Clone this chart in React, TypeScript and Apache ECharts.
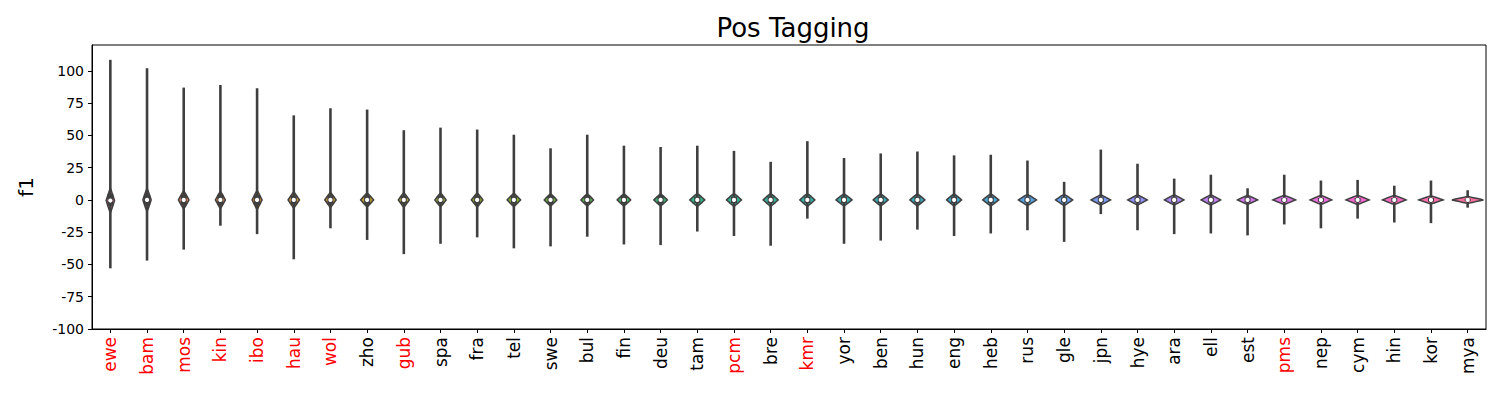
import React, { useEffect, useRef } from "react";
import * as echarts from "echarts";

const categories = ["ewe","bam","mos","kin","ibo","hau","wol","zho","gub","spa","fra","tel","swe","bul","fin","deu","tam","pcm","bre","kmr","yor","ben","hun","eng","heb","rus","gle","jpn","hye","ara","ell","est","pms","nep","cym","hin","kor","mya"];
const redLabels = ["ewe","bam","mos","kin","ibo","hau","wol","gub","pcm","kmr","pms"];
const maxValues = [108.5,102,87,89,86.5,65.5,71,70,54,56,54.5,50.5,40,50.5,42,41,42,38,29.5,45.5,32.5,36,37.5,34.5,35,30.5,14,39,28,16.5,19.5,9,19.5,15,15.5,11,15,7.5];
const minValues = [-53,-47,-38.5,-20,-26.5,-46,-22,-31,-42,-34,-29,-37.5,-36,-28.5,-34.5,-35,-24.5,-28,-35.5,-14.5,-34,-31.5,-23,-28,-26,-23.5,-32.5,-11,-23.5,-26.5,-26,-27.5,-19,-22,-14.5,-17.5,-18,-6];
const medians = [-0.5,0,0,0,0,0,0,0,0,0,0,0,0,0,0,0,0,0,0,0,0,0,0,0,0,0,0,0,0,0,0,0,0,0,0,0,0,0];
const q1Values = [-4.5,-4.5,-4,-4,-4,-3.5,-3.5,-3.5,-3,-3,-3,-3,-3,-3,-3,-3,-2.5,-2.5,-2.5,-2.5,-2.5,-2.5,-2.5,-2.5,-2.5,-2,-2,-2,-2,-2,-2,-2,-1.5,-1.5,-1.5,-1.5,-1.5,-1];
const q3Values = [4.5,4.5,4,4,4,3.5,3.5,3.5,3,3,3,3,3,3,3,3,2.5,2.5,2.5,2.5,2.5,2.5,2.5,2.5,2.5,2,2,2,2,2,2,2,1.5,1.5,1.5,1.5,1.5,1];
// violin body: peak half-width (fraction of category band) and half-height (data units)
const violinWidths = [0.114,0.114,0.144,0.136,0.136,0.155,0.155,0.177,0.15,0.155,0.158,0.183,0.172,0.172,0.183,0.183,0.204,0.204,0.204,0.204,0.218,0.204,0.204,0.204,0.218,0.245,0.232,0.264,0.264,0.264,0.264,0.272,0.308,0.292,0.313,0.319,0.327,0.43];
const violinSpreads = [9.5,9,7,6.6,7.3,6.2,5.8,5.4,5.6,5.3,5.4,5.1,4.7,4.7,4.7,4.7,5,5,5,5,4.7,4.7,4.7,4.7,4.7,4.3,4.3,3.9,3.9,3.9,3.9,3.5,3.5,3.5,3.5,3.5,3.1,2.6];
const yTicks = [-100,-75,-50,-25,0,25,50,75,100];

const huslAnchors = ["#f77189","#dc8932","#ae9d31","#77ab31","#33b07a","#36ada4","#38a9c5","#6e9bf4","#cc7af4","#f565cc"];

function hexToRgb(h: string) {
  return [parseInt(h.slice(1, 3), 16), parseInt(h.slice(3, 5), 16), parseInt(h.slice(5, 7), 16)];
}
function paletteColor(i: number, n: number) {
  const p = (i * huslAnchors.length) / n;
  const a = Math.floor(p) % huslAnchors.length;
  const b = (a + 1) % huslAnchors.length;
  const f = p - Math.floor(p);
  const ca = hexToRgb(huslAnchors[a]);
  const cb = hexToRgb(huslAnchors[b]);
  const c = ca.map((v, k) => Math.round(v + (cb[k] - v) * f));
  return `rgb(${c[0]},${c[1]},${c[2]})`;
}

const DARK = "#3f3f3f";
const FONT = "DejaVu Sans";

export default function App() {
  const ref = useRef<HTMLDivElement>(null);
  useEffect(() => {
    if (!ref.current) return;
    const chart = echarts.init(ref.current, null, { renderer: "svg" });
    const data = categories.map((c, i) => [
      i, minValues[i], q1Values[i], medians[i], q3Values[i], maxValues[i], violinWidths[i], violinSpreads[i],
    ]);
    const renderItem = (params: any, api: any) => {
      const i = api.value(0);
      const mn = api.value(1), q1 = api.value(2), med = api.value(3), q3 = api.value(4), mx = api.value(5);
      const w = api.value(6), s = api.value(7);
      const bw = api.size([1, 0])[0];
      const cx = api.coord([i, 0])[0];
      const yOf = (v: number) => api.coord([i, v])[1];
      const N = 24;
      const right: number[][] = [];
      const left: number[][] = [];
      for (let k = 0; k <= N; k++) {
        const t = -s + (2 * s * k) / N;
        const hw = w * bw * Math.pow(Math.max(0, 1 - Math.abs(t) / s), 0.9);
        right.push([cx + hw, yOf(med + t)]);
        left.unshift([cx - hw, yOf(med + t)]);
      }
      return {
        type: "group",
        children: [
          {
            type: "polygon",
            shape: { points: right.concat(left) },
            style: { fill: paletteColor(i, categories.length), stroke: DARK, lineWidth: 1.5 },
          },
          {
            type: "line",
            shape: { x1: cx, y1: yOf(mn), x2: cx, y2: yOf(mx) },
            style: { stroke: DARK, lineWidth: 2.6 },
          },
          {
            type: "line",
            shape: { x1: cx, y1: yOf(q1), x2: cx, y2: yOf(q3) },
            style: { stroke: DARK, lineWidth: 6 },
          },
          {
            type: "circle",
            shape: { cx: cx, cy: yOf(med), r: 2.1 },
            style: { fill: "#ffffff" },
          },
        ],
      };
    };
    chart.setOption({
      animation: false,
      title: {
        text: "Pos Tagging",
        left: 788,
        top: 10,
        textAlign: "center",
        textStyle: { fontFamily: FONT, fontSize: 26, fontWeight: "normal", color: "#000" },
      },
      grid: {
        left: 92, right: 14, top: 45, bottom: 71,
        show: true, borderColor: "#000", borderWidth: 1, backgroundColor: "#fff",
      },
      xAxis: {
        type: "category",
        data: categories,
        boundaryGap: true,
        axisLine: { show: true, onZero: false, lineStyle: { color: "#000", width: 1 } },
        axisTick: { show: true, alignWithLabel: true, length: 4, lineStyle: { color: "#000" } },
        axisLabel: {
          rotate: 90,
          fontSize: 17,
          fontFamily: FONT,
          margin: 8,
          interval: 0,
          color: (v: string) => (redLabels.includes(v) ? "#ff0000" : "#000000"),
        },
        splitLine: { show: false },
      },
      yAxis: {
        type: "value",
        min: -100,
        max: 120,
        name: "f1",
        nameLocation: "middle",
        nameGap: 56,
        nameTextStyle: { fontFamily: FONT, fontSize: 20, color: "#000" },
        axisLine: { show: true, onZero: false, lineStyle: { color: "#000", width: 1 } },
        axisTick: { show: true, length: 4, lineStyle: { color: "#000" }, customValues: yTicks },
        axisLabel: { fontSize: 14, fontFamily: FONT, color: "#000", margin: 8, customValues: yTicks },
        splitLine: { show: false },
      },
      series: [
        {
          type: "custom",
          data: data,
          encode: { x: 0, y: [1, 5] },
          renderItem: renderItem,
          clip: true,
        },
      ],
    });
    return () => chart.dispose();
  }, []);
  return <div ref={ref} style={{ position: "fixed", left: 0, top: 0, width: 1500, height: 400, background: "#fff" }} />;
}
